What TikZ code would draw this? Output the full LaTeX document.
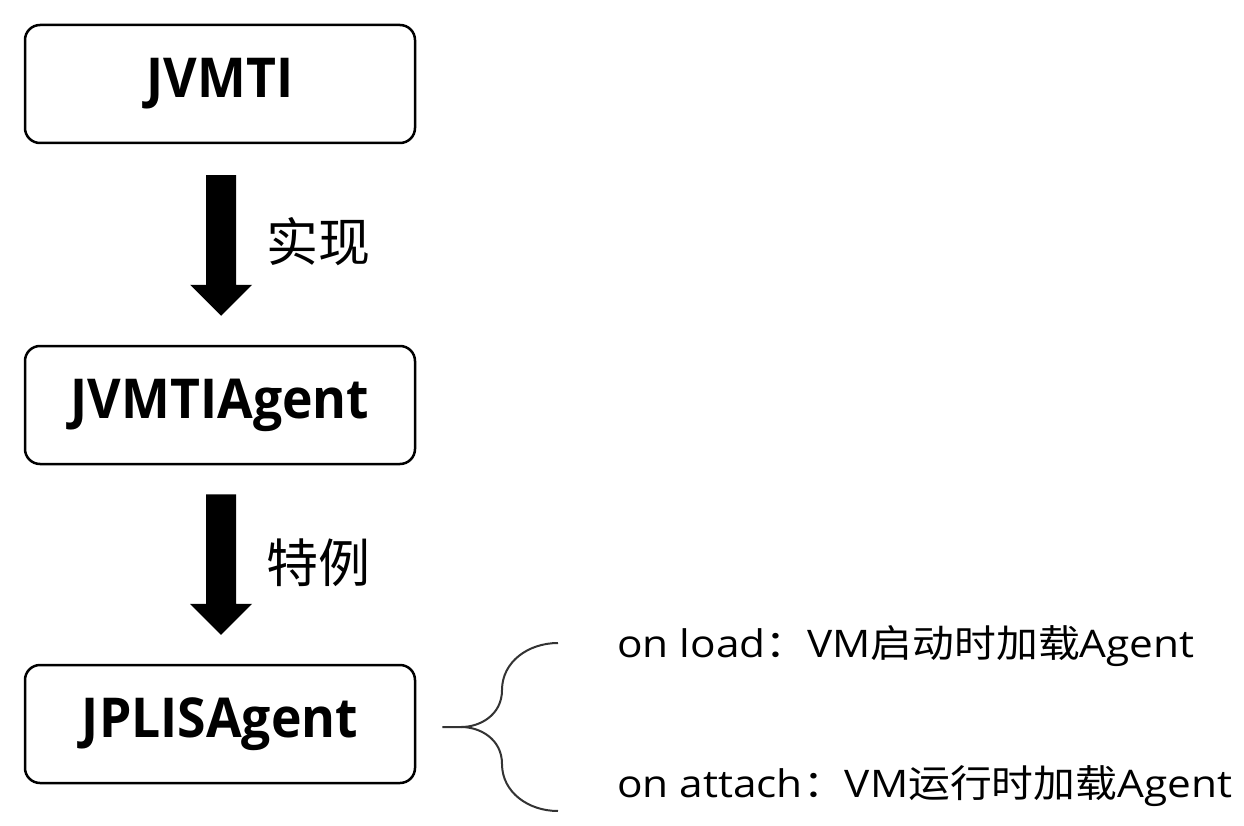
\documentclass[tikz,border=0pt]{standalone}
\usepackage{fontspec}
\setmainfont{Open Sans}
\newfontfamily\cjk{Noto Sans CJK SC}
\newfontfamily\boxfont[FakeStretch=0.94]{Open Sans}
\newfontfamily\latm[FakeStretch=1.115]{Open Sans}
\newfontfamily\cjkm[FakeStretch=1.1]{Noto Sans CJK SC}
\usetikzlibrary{calc}
\begin{document}
\begin{tikzpicture}[x=1pt,y=-1pt,
  boxstyle/.style={draw=black,line width=2.5pt,rounded corners=15pt,minimum width=390pt,minimum height=118pt,inner sep=0pt,font=\boxfont\bfseries\fontsize{55}{58}\selectfont},
  lbl/.style={font=\cjk\fontsize{52}{56}\selectfont,inner sep=0pt,anchor=west},
  rtext/.style={font=\latm\fontsize{38}{42}\selectfont,inner sep=0pt,anchor=west},
  fatarrow/.style={fill=black},
  bracestyle/.style={draw=black!80,line width=2pt}]
\useasboundingbox (0,0) rectangle (1244,826);
\node[boxstyle] (a) at (220,84) {JVMTI};
\node[boxstyle] (b) at (220,405) {JVMTIAgent};
\node[boxstyle] (c) at (220,724) {JPLISAgent};
% arrow a -> b
\fill[fatarrow] ($(a.south)+(-14,31)$) -- ($(a.south)+(16,31)$) -- ($(b.north)+(16,-60)$) -- ($(b.north)+(32,-60)$) -- ($(b.north)+(1,-29)$) -- ($(b.north)+(-30,-60)$) -- ($(b.north)+(-14,-60)$) -- cycle;
\fill[fatarrow] ($(b.south)+(-14,29)$) -- ($(b.south)+(16,29)$) -- ($(c.north)+(16,-60)$) -- ($(c.north)+(32,-60)$) -- ($(c.north)+(1,-29)$) -- ($(c.north)+(-30,-60)$) -- ($(c.north)+(-14,-60)$) -- cycle;
\node[lbl] (l1) at (266,242) {实现};
\node[lbl] (l2) at (266,563) {特例};
\node[rtext] (t1) at (617,646) {on load{\cjkm：}VM{\cjkm 启动时加载}Agent};
\node[rtext] (t2) at (617,786) {on attach{\cjkm：}VM{\cjkm 运行时加载}Agent};
\coordinate (bt) at (558,643);
\coordinate (bb) at (558,811);
\draw[bracestyle] ($(c.east)+(26,3)$) -- ($(c.east)+(45,3)$) .. controls (480,727) and (502,715) .. (502,690) .. controls (502,662) and (528,643) .. (bt);
\draw[bracestyle] ($(c.east)+(45,3)$) .. controls (480,727) and (502,739) .. (502,764) .. controls (502,792) and (528,811) .. (bb);
\end{tikzpicture}
\end{document}
